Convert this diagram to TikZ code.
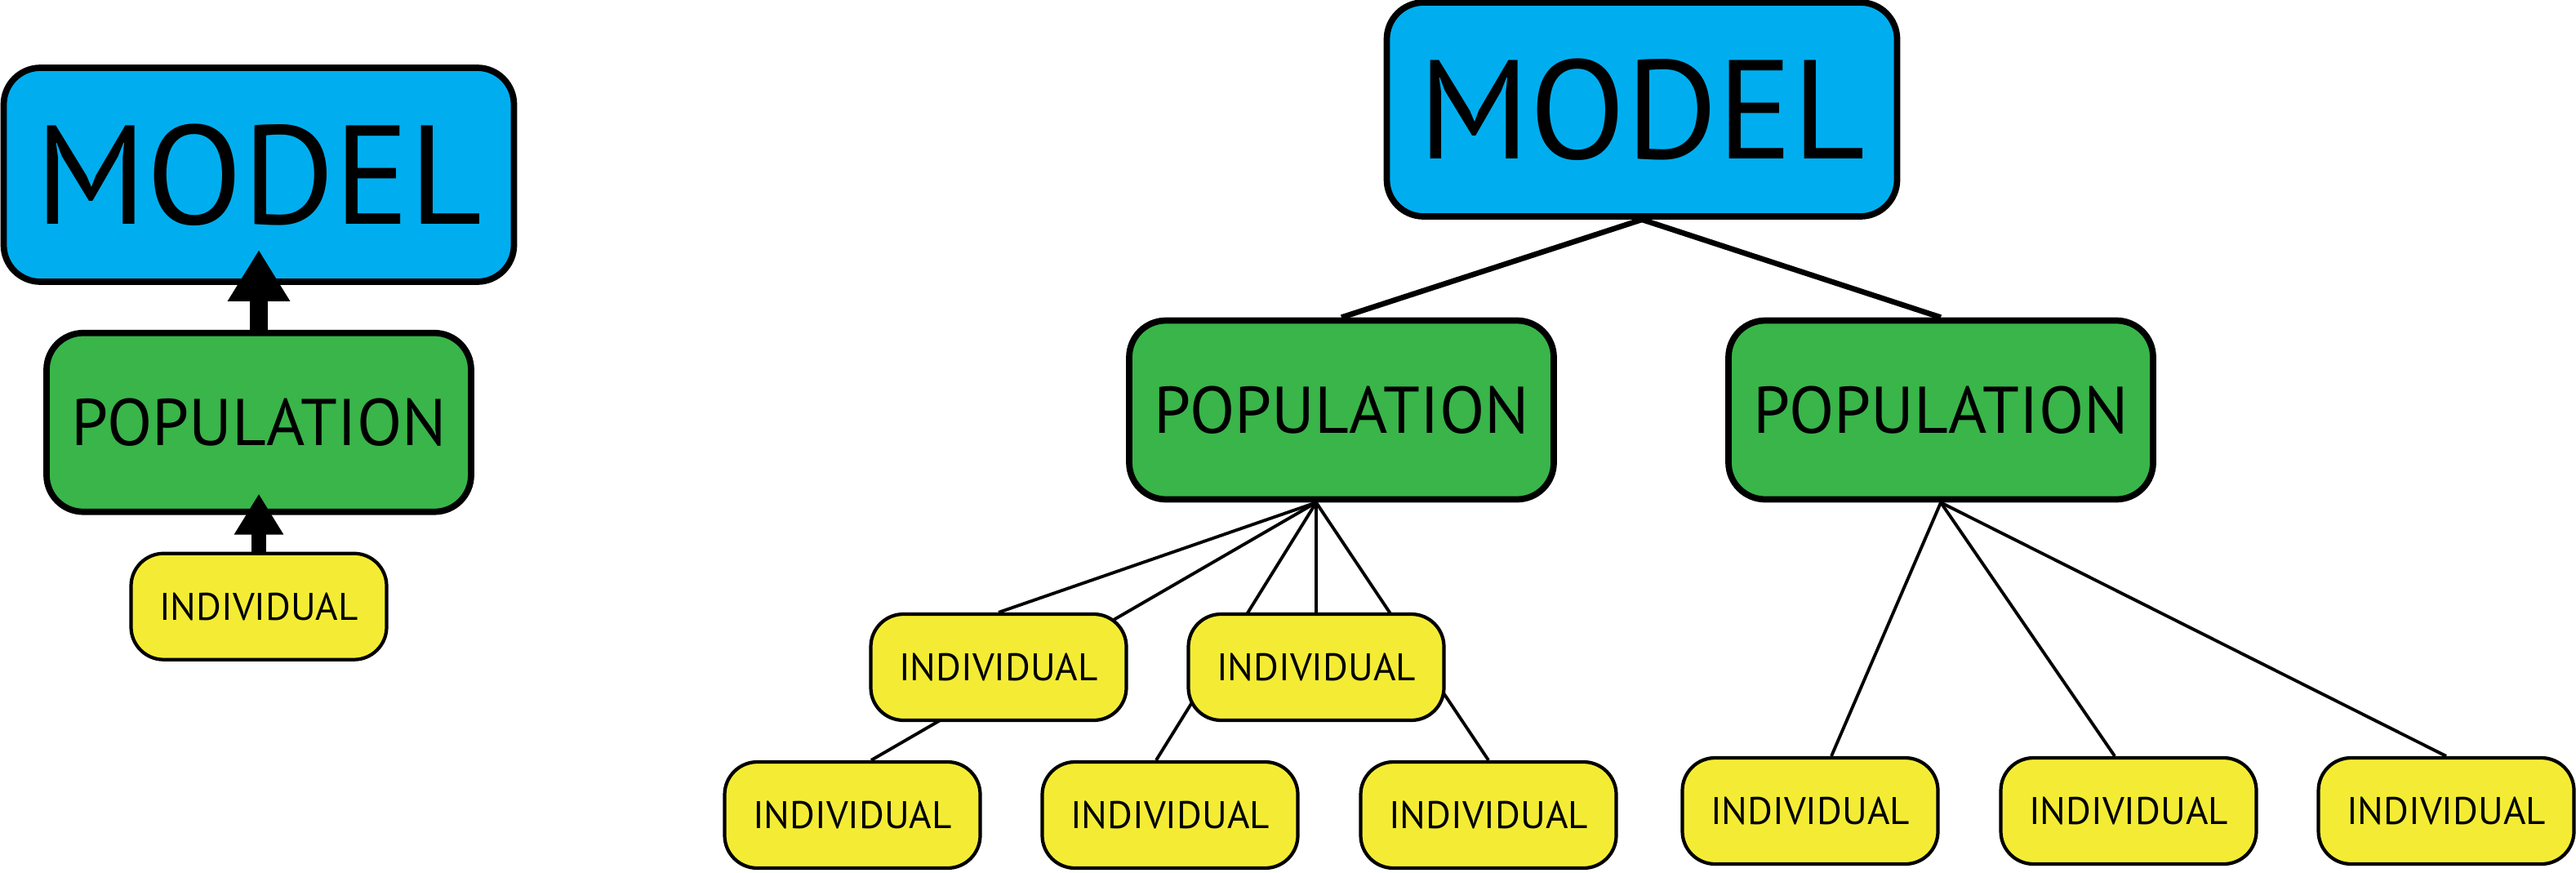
\documentclass[tikz,border=0pt]{standalone}
\usepackage{fontspec}
\setmainfont{PT Sans}
\usepackage{tikz}
\usetikzlibrary{
  arrows.meta,
  positioning,
  calc,
  backgrounds
}
\definecolor{mdModel}{HTML}{00AEEF}
\definecolor{mdPop}{HTML}{39B54A}
\definecolor{mdInd}{HTML}{F4EC34}
\tikzset{
  mdnode/.style={
    draw, rounded corners=4.5mm, line width=2.2pt, align=center, inner sep=0pt
  },
  modelbox/.style={mdnode, fill=mdModel, minimum width=62.5mm, minimum height=26.2mm,
    font=\fontsize{49}{52}\selectfont},
  popbox/.style={mdnode, fill=mdPop, minimum width=52mm, minimum height=21.9mm,
    font=\fontsize{23}{27}\selectfont},
  indbox/.style={mdnode, fill=mdInd, rounded corners=4mm, line width=1.2pt,
    minimum width=31.3mm, minimum height=13mm, font=\fontsize{13.4}{16}\selectfont},
  uparrow/.style={line width=6pt, -{Triangle[length=6.3mm, width=7.2mm]}},
  link/.style={line width=1.9pt},
  sublink/.style={line width=1.1pt}
}

\begin{document}
\begin{tikzpicture}
  \useasboundingbox (0,0) rectangle (31.55,-10.68);

  % left: one chain
  \node[modelbox] (lmodel) at (3.17,-2.14) {MODEL};
  \node[popbox, below=5.5mm of lmodel] (lpop) {POPULATION};
  \node[indbox, below=4.5mm of lpop] (lind) {INDIVIDUAL};
  \draw[uparrow] (lpop.north) -- ([yshift=4.3mm]lmodel.south);
  \draw[uparrow, line width=4.9pt, -{Triangle[length=5mm, width=5.7mm]}] (lind.north) -- ([yshift=2.6mm]lpop.south);

  % right: tree
  \node[modelbox] (rmodel) at (20.11,-1.34) {MODEL};
  \node[popbox] (pop1) at (16.43,-5.02) {POPULATION};
  \node[popbox] (pop2) at (23.77,-5.02) {POPULATION};
  \node[indbox] (ind1) at (12.23,-8.17) {INDIVIDUAL};
  \node[indbox] (ind2) at (16.12,-8.17) {INDIVIDUAL};
  \node[indbox] (ind3) at (10.44,-9.98) {INDIVIDUAL};
  \node[indbox] (ind4) at (14.33,-9.98) {INDIVIDUAL};
  \node[indbox] (ind5) at (18.23,-9.98) {INDIVIDUAL};
  \node[indbox] (ind6) at (22.17,-9.93) {INDIVIDUAL};
  \node[indbox] (ind7) at (26.07,-9.93) {INDIVIDUAL};
  \node[indbox] (ind8) at (29.96,-9.93) {INDIVIDUAL};

  \draw[link] (rmodel.south) -- (pop1.north);
  \draw[link] (rmodel.south) -- (pop2.north);

  \coordinate (hub1) at (ind2 |- pop1.south);
  \begin{scope}[on background layer]
    \draw[sublink] (hub1) -- (ind1.north);
    \draw[sublink] (hub1) -- ([xshift=2.3mm]ind3.north);
    \draw[sublink] (hub1) -- (ind2.north);
    \draw[sublink] (hub1) -- ([xshift=-1.7mm]ind4.north);
    \draw[sublink] (hub1) -- (ind5.north);
  \end{scope}
  \draw[sublink] (pop2.south) -- ([xshift=2.6mm]ind6.north);
  \draw[sublink] (pop2.south) -- ([xshift=-1.7mm]ind7.north);
  \draw[sublink] (pop2.south) -- (ind8.north);
\end{tikzpicture}
\end{document}
